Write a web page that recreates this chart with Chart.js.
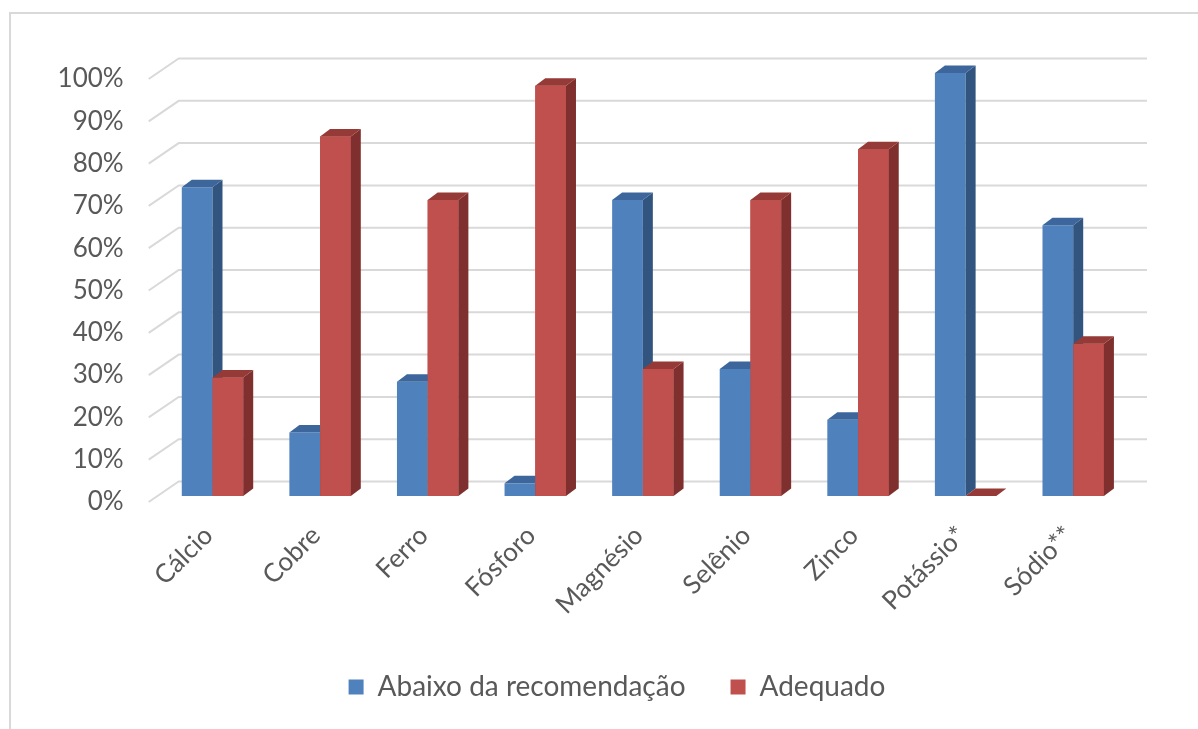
<!DOCTYPE html>
<html>
<head>
<meta charset="utf-8">
<script src="https://cdn.jsdelivr.net/npm/chart.js@4/dist/chart.umd.min.js"></script>
<style>
  html, body { margin: 0; padding: 0; background: #fff; }
  canvas { display: block; }
</style>
</head>
<body>
<canvas id="c" width="1198" height="729"></canvas>
<script>
// ---- data ----
const categories = ['Cálcio', 'Cobre', 'Ferro', 'Fósforo', 'Magnésio', 'Selênio', 'Zinco', 'Potássio*', 'Sódio**'];
const abaixoDaRecomendacao = [73, 15, 27, 3, 70, 30, 18, 100, 64];
const adequado = [28, 85, 70, 97, 30, 70, 82, 0, 36];
const seriesNames = ['Abaixo da recomendação', 'Adequado'];
const yTicks = [0, 10, 20, 30, 40, 50, 60, 70, 80, 90, 100];

// ---- styles ----
const FRONT = ['#4f81bd', '#c0504d'];
const SIDE = ['#31557f', '#7f302e'];
const TOP = ['#3d679c', '#953a37'];
const TEXT = '#595959';
const FONT = 'Lato';
const DX = 10, DY = 7.5, LIFT = 6;

const threeD = {
  id: 'threeD',
  beforeDraw(chart) {
    const ctx = chart.ctx;
    ctx.save();
    ctx.strokeStyle = '#d9d9d9';
    ctx.lineWidth = 2;
    ctx.strokeRect(10, 13, 1300, 900);
    ctx.restore();
  },
  beforeDatasetsDraw(chart) {
    const ctx = chart.ctx;
    const ys = chart.scales.y;
    const a = chart.chartArea;
    ctx.save();
    ctx.strokeStyle = '#d9d9d9';
    ctx.lineWidth = 2;
    ys.ticks.forEach(t => {
      const y = ys.getPixelForValue(t.value);
      ctx.beginPath();
      ctx.moveTo(a.left - 10, y);
      ctx.lineTo(a.left + 20, y - 20.5);
      ctx.lineTo(a.right + 20, y - 20.5);
      ctx.stroke();
    });
    ctx.restore();
    ctx.save();
    ctx.translate(0, -LIFT);
  },
  afterDatasetsDraw(chart) {
    const ctx = chart.ctx;
    const metas = [chart.getDatasetMeta(0), chart.getDatasetMeta(1)];
    const n = metas[0].data.length;
    const faces = (el, k) => {
      const p = el.getProps(['x', 'y', 'base', 'width'], true);
      const l = p.x - p.width / 2, r = p.x + p.width / 2;
      ctx.fillStyle = SIDE[k];
      ctx.beginPath();
      ctx.moveTo(r, p.y);
      ctx.lineTo(r + DX, p.y - DY);
      ctx.lineTo(r + DX, p.base - DY);
      ctx.lineTo(r, p.base);
      ctx.closePath();
      ctx.fill();
      ctx.fillStyle = TOP[k];
      ctx.beginPath();
      ctx.moveTo(l, p.y);
      ctx.lineTo(l + DX, p.y - DY);
      ctx.lineTo(r + DX, p.y - DY);
      ctx.lineTo(r, p.y);
      ctx.closePath();
      ctx.fill();
    };
    for (let i = 0; i < n; i++) {
      faces(metas[0].data[i], 0);
      metas[1].data[i].draw(ctx);
      faces(metas[1].data[i], 1);
    }
    ctx.restore();
  }
};

new Chart(document.getElementById('c'), {
  type: 'bar',
  data: {
    labels: categories,
    datasets: [
      { label: seriesNames[0], data: abaixoDaRecomendacao, backgroundColor: FRONT[0], borderWidth: 0, clip: false },
      { label: seriesNames[1], data: adequado, backgroundColor: FRONT[1], borderWidth: 0, clip: false }
    ]
  },
  options: {
    responsive: false,
    animation: false,
    devicePixelRatio: 1,
    layout: { padding: { left: 36, right: 0, top: 79, bottom: 18 } },
    datasets: { bar: { categoryPercentage: 0.571, barPercentage: 1 } },
    scales: {
      x: {
        grid: { display: false, drawTicks: false },
        border: { display: false },
        ticks: {
          autoSkip: false, maxRotation: 45, minRotation: 45, padding: 18, labelOffset: -4,
          color: TEXT, font: { family: FONT, size: 26 }
        },
        afterFit(s) { s.height = 126; }
      },
      y: {
        min: 0, max: 100,
        afterBuildTicks(s) { s.ticks = yTicks.map(v => ({ value: v })); },
        grid: { display: false, drawTicks: false },
        border: { display: false },
        ticks: {
          padding: 35, color: TEXT, font: { family: FONT, size: 26 },
          callback: v => v + '%'
        },
        afterFit(s) { s.width = 122.7; }
      },
      yRight: {
        type: 'linear', position: 'right', display: true,
        grid: { display: false, drawTicks: false },
        border: { display: false },
        ticks: { display: false },
        afterFit(s) { s.width = 71; }
      }
    },
    plugins: {
      legend: {
        position: 'bottom',
        labels: {
          boxWidth: 15, boxHeight: 15, padding: 45, color: TEXT,
          font: { family: FONT, size: 28 }
        }
      },
      tooltip: { enabled: false }
    }
  },
  plugins: [threeD]
});
</script>
</body>
</html>
